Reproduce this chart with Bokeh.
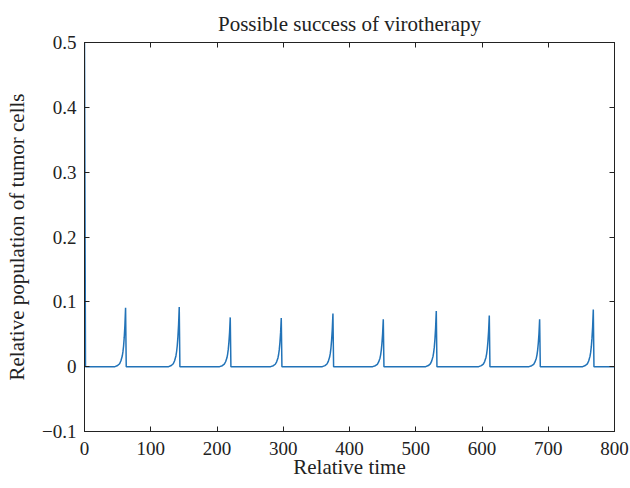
from bokeh.plotting import figure
from bokeh.models import LinearAxis, FixedTicker, Range1d
from bokeh.embed import file_html
from bokeh.resources import INLINE

# Spike times and peak heights of the tumour population
spike_times = [62, 143, 220, 297, 375, 451, 531, 611, 687, 768]
spike_peaks = [0.091, 0.092, 0.076, 0.075, 0.082, 0.073, 0.086, 0.079, 0.073, 0.088]

# Shape of one burst: time offset from the peak and fraction of the peak height
burst_offsets = [-16, -12, -9, -7, -5, -4, -3, -2, -1, 0, 1]
burst_fractions = [0.0, 0.02, 0.05, 0.10, 0.18, 0.25, 0.35, 0.5, 0.7, 1.0, 0.0]

# Initial condition and end of simulation
start_t = [0, 1.5]
start_y = [0.5, 0.0]
end_t = 800

x_ticks = [0, 100, 200, 300, 400, 500, 600, 700, 800]
y_ticks = [-0.1, 0, 0.1, 0.2, 0.3, 0.4, 0.5]
y_labels = ["\u22120.1", "0", "0.1", "0.2", "0.3", "0.4", "0.5"]

t = list(start_t)
y = list(start_y)
for ts, pk in zip(spike_times, spike_peaks):
    for off, fr in zip(burst_offsets, burst_fractions):
        t.append(ts + off)
        y.append(pk * fr)
t.append(end_t)
y.append(0.0)

FONT = "Liberation Serif"
INK = "#222222"

p = figure(width=630, height=488, output_backend="svg", toolbar_location=None,
           x_range=Range1d(0, 800), y_range=Range1d(-0.1, 0.5),
           min_border_left=84, min_border_right=16, min_border_top=42,
           min_border_bottom=57, title="Possible success of virotherapy")
p.title.text_font = FONT
p.title.text_font_size = "21px"
p.title.text_font_style = "normal"
p.title.align = "center"
p.title.vertical_align = "top"
p.title.text_color = INK
p.title.standoff = 10

p.line(t, y, line_color="#2273b8", line_width=1.5)

p.grid.visible = False
p.outline_line_color = INK
p.outline_line_width = 1
p.background_fill_color = "white"
p.border_fill_color = "white"

p.xaxis.axis_label = "Relative time"
p.yaxis.axis_label = "Relative population of tumor cells"
p.xaxis.ticker = FixedTicker(ticks=x_ticks)
p.yaxis.ticker = FixedTicker(ticks=y_ticks)
p.yaxis.major_label_overrides = {v: s for v, s in zip(y_ticks, y_labels)}

for ax in p.xaxis + p.yaxis:
    ax.axis_label_text_font = FONT
    ax.axis_label_text_font_style = "normal"
    ax.axis_label_text_font_size = "21px"
    ax.axis_label_text_color = INK
    ax.major_label_text_font = FONT
    ax.major_label_text_font_size = "19px"
    ax.major_label_text_color = INK
    ax.major_tick_in = 5
    ax.major_tick_out = 0
    ax.minor_tick_line_color = None
    ax.axis_line_color = INK
    ax.major_tick_line_color = INK

p.xaxis.major_label_standoff = 10
p.yaxis.major_label_standoff = 8
p.xaxis.axis_label_standoff = -3
p.yaxis.axis_label_standoff = 10

# Inward ticks on the top and right edges of the box, without labels
top = LinearAxis(ticker=FixedTicker(ticks=x_ticks), major_label_text_color=None,
                 major_tick_in=5, major_tick_out=0, minor_tick_line_color=None,
                 axis_line_color=INK, major_tick_line_color=INK,
                 major_label_standoff=0)
right = LinearAxis(ticker=FixedTicker(ticks=y_ticks), major_label_text_color=None,
                   major_tick_in=5, major_tick_out=0, minor_tick_line_color=None,
                   axis_line_color=INK, major_tick_line_color=INK,
                   major_label_standoff=0)
top.major_label_overrides = {v: "" for v in x_ticks}
right.major_label_overrides = {v: "" for v in y_ticks}
p.add_layout(top, "above")
p.add_layout(right, "right")

open("out.html", "w").write(file_html(p, INLINE))
